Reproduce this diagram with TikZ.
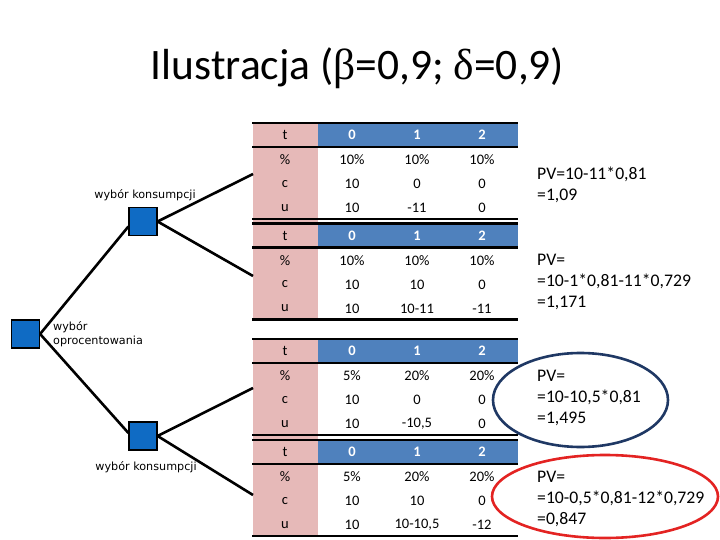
\documentclass[tikz,border=0pt]{standalone}
\usepackage{fontspec}
\setmainfont{Carlito}
\newfontfamily\labfont{DejaVu Sans}
\newfontfamily\grfont{Liberation Serif}
\definecolor{hdrblue}{HTML}{4F81BD}
\definecolor{pinkcol}{HTML}{E6B9B8}
\definecolor{sqblue}{HTML}{0F6BC4}
\definecolor{navyell}{HTML}{1F3864}
\definecolor{redell}{HTML}{E32322}
\begin{document}
\begin{tikzpicture}[x=1pt,y=-1pt,
  sq/.style={draw=black,line width=1.2pt,fill=sqblue,minimum size=28pt,inner sep=0pt},
  branch/.style={line width=2.6pt,black},
  rule/.style={line width=2.6pt,black},
  lab/.style={font=\labfont\fontsize{11.2}{14}\selectfont,inner sep=0pt},
  cell/.style={font=\fontsize{14.5}{15}\selectfont,inner sep=0pt},
  hcell/.style={font=\bfseries\fontsize{14.5}{15}\selectfont,text=white,inner sep=0pt},
  pv/.style={font=\fontsize{17.7}{21}\selectfont,align=left,anchor=west,inner sep=0pt}]
\useasboundingbox (0,0) rectangle (720,540);
% title
\node[font=\fontsize{43.5}{46}\selectfont,anchor=base] (title) at (357.5,80) {Ilustracja ({\grfont β}=0,9; {\grfont δ}=0,9)};
% pink columns
\fill[pinkcol] (253,123) rectangle (318,321);
\fill[pinkcol] (253,339) rectangle (318,537);
% tables
\foreach \k/\T/\pa/\pb/\pc/\ca/\cb/\cc/\ua/\ub/\uc in {
  1/123/{10\%}/{10\%}/{10\%}/10/0/0/10/{-11}/0,
  2/223.5/{10\%}/{10\%}/{10\%}/10/10/0/10/{10-11}/{-11},
  3/339/{5\%}/{20\%}/{20\%}/10/0/0/10/{-10,5}/0,
  4/440/{5\%}/{20\%}/{20\%}/10/10/0/10/{10-10,5}/{-12}}{
  \fill[hdrblue] (318,\T) rectangle (518,\T+24);
  \draw[rule] (252,\T) -- (518,\T);
  \draw[rule] (252,\T+24) -- (518,\T+24);
  \draw[rule] (252,\T+96) -- (518,\T+96);
  \node[cell] (t\k-h) at (285,\T+12) {t};
  \node[hcell] (t\k-h0) at (352,\T+12) {0};
  \node[hcell] (t\k-h1) at (417,\T+12) {1};
  \node[hcell] (t\k-h2) at (482,\T+12) {2};
  \node[cell] (t\k-p) at (285,\T+37) {\%};
  \node[cell] (t\k-p0) at (352,\T+37) {\pa};
  \node[cell] (t\k-p1) at (417,\T+37) {\pb};
  \node[cell] (t\k-p2) at (482,\T+37) {\pc};
  \node[cell] (t\k-c) at (285,\T+61) {c};
  \node[cell] (t\k-c0) at (352,\T+61) {\ca};
  \node[cell] (t\k-c1) at (417,\T+61) {\cb};
  \node[cell] (t\k-c2) at (482,\T+61) {\cc};
  \node[cell] (t\k-u) at (285,\T+85) {u};
  \node[cell] (t\k-u0) at (352,\T+85) {\ua};
  \node[cell] (t\k-u1) at (417,\T+85) {\ub};
  \node[cell] (t\k-u2) at (482,\T+85) {\uc};
}
% tree
\node[sq] (root) at (25.5,334) {};
\node[sq] (top) at (143,221.5) {};
\node[sq] (bot) at (143,436) {};
\coordinate (e1) at (253,174);
\coordinate (e2) at (253,276);
\coordinate (e3) at (253,388);
\coordinate (e4) at (253,495);
\draw[branch] (root.east) -- ([yshift=-5pt]top.west);
\draw[branch] (root.east) -- ([yshift=3pt]bot.west);
\draw[branch] (top.east) -- (e1);
\draw[branch] (top.east) -- (e2);
\draw[branch] (bot.east) -- (e3);
\draw[branch] (bot.east) -- (e4);
\node[lab] (l1) at (145,195) {wybór konsumpcji};
\node[lab] (l3) at (146,467) {wybór konsumpcji};
\node[lab,align=left,anchor=west] (l2) at (53,334) {wybór\\oprocentowania};
% PV texts
\node[pv] (pv1) at (537,185) {PV=10-11*0,81\\=1,09};
\node[pv] (pv2) at (537,282) {PV=\\=10-1*0,81-11*0,729\\=1,171};
\node[pv] (pv3) at (537,398) {PV=\\=10-10,5*0,81\\=1,495};
\node[pv] (pv4) at (537,499) {PV=\\=10-0,5*0,81-12*0,729\\=0,847};
% ellipses
\draw[navyell,line width=2.6pt] (580.5,400) ellipse [x radius=87.5pt, y radius=47pt];
\draw[redell,line width=2.6pt] (605,496.5) ellipse [x radius=113pt, y radius=41.5pt];
\end{tikzpicture}
\end{document}
